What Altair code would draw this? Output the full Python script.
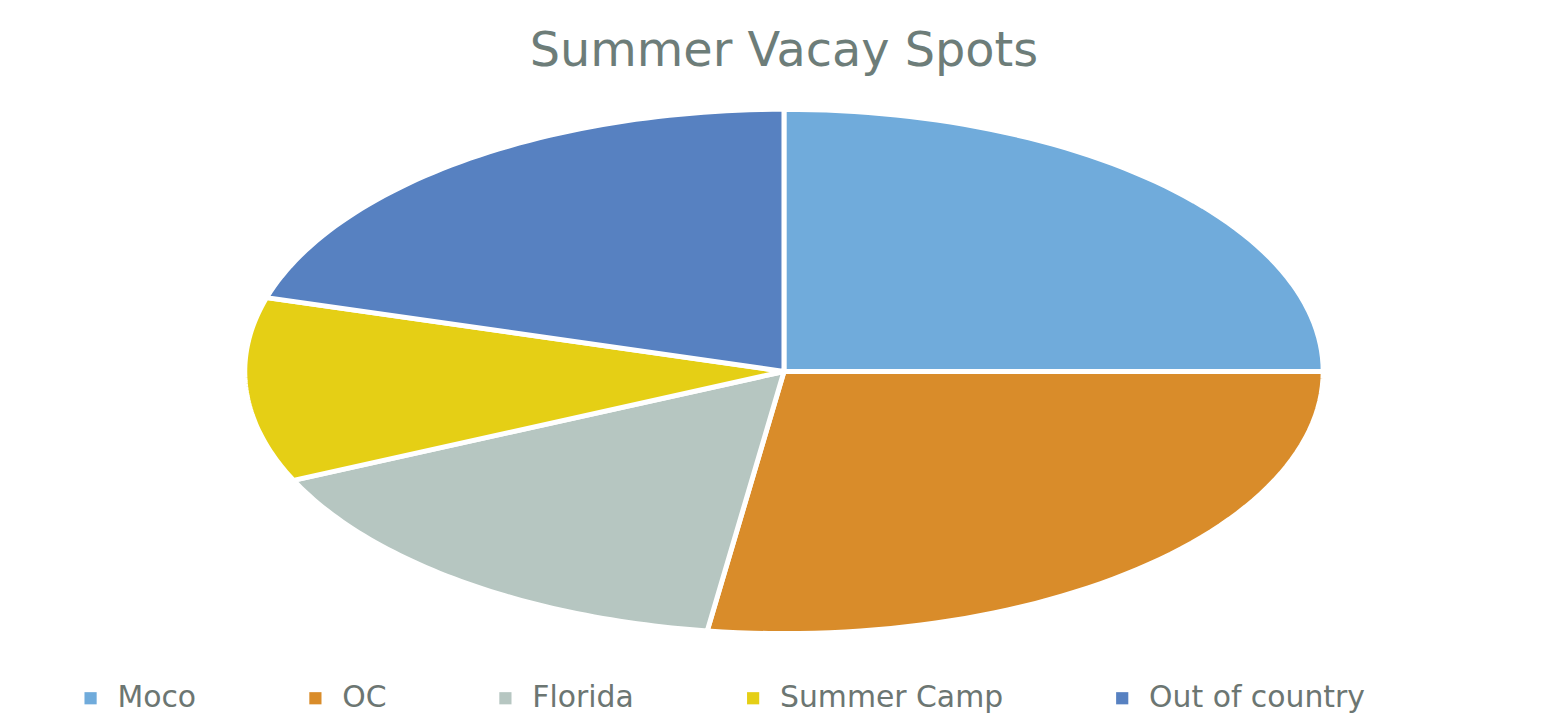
import altair as alt
import pandas as pd

# Data
categories = ["Moco", "OC", "Florida", "Summer Camp", "Out of country"]
values = [11, 12, 7, 5, 9]
colors = ["#70ABDB", "#D98C2A", "#B6C6C1", "#E5CF15", "#5781C1"]

df = pd.DataFrame({"cat": categories, "value": values, "idx": list(range(len(categories)))})

N = 60  # arc resolution

base = (
    alt.Chart(df)
    .transform_window(cum="sum(value)", sort=[alt.SortField("idx")], frame=[None, 0])
    .transform_joinaggregate(total="sum(value)")
    .transform_calculate(
        a0="2*PI*(datum.cum - datum.value)/datum.total",
        a1="2*PI*datum.cum/datum.total",
        k=f"sequence(0, {N + 3})",
    )
    .transform_flatten(["k"])
    .transform_calculate(
        t=f"datum.a0 + (datum.a1 - datum.a0)*(datum.k - 1)/{N}",
    )
    .transform_calculate(
        px=f"(datum.k == 0 || datum.k == {N + 2}) ? 0 : sin(datum.t)",
        py=f"(datum.k == 0 || datum.k == {N + 2}) ? 0 : cos(datum.t)",
    )
)

pie = base.mark_line(filled=True, stroke="white", strokeWidth=5, strokeJoin="miter").encode(
    x=alt.X("px:Q", scale=alt.Scale(domain=[-1, 1], nice=False, zero=False), axis=None),
    y=alt.Y("py:Q", scale=alt.Scale(domain=[-1, 1], nice=False, zero=False), axis=None),
    order=alt.Order("k:Q"),
    detail="cat:N",
    color=alt.Color(
        "cat:N",
        scale=alt.Scale(domain=categories, range=colors),
        sort=categories,
        legend=alt.Legend(
            title=None,
            orient="none",
            direction="horizontal",
            legendX=-170,
            legendY=577,
            symbolType="square",
            symbolSize=150,
            symbolStrokeWidth=0,
            labelFont="DejaVu Sans",
            labelFontSize=30,
            labelColor="#6C7672",
            labelLimit=600,
            columnPadding=104,
            symbolOffset=0,
            labelOffset=12,
        ),
    ),
)

chart = pie.properties(
    width=1084,
    height=527,
    autosize=alt.AutoSizeParams(type="none"),
    padding={"left": 238, "top": 100, "right": 226, "bottom": 80},
    title=alt.TitleParams(
        "Summer Vacay Spots",
        font="DejaVu Sans",
        fontSize=48,
        fontWeight="normal",
        color="#6D7D79",
        anchor="middle",
        baseline="alphabetic",
        offset=-14,
    ),
).configure_view(stroke=None)

chart.save("out.html", embed_options={"renderer": "svg", "actions": False})
